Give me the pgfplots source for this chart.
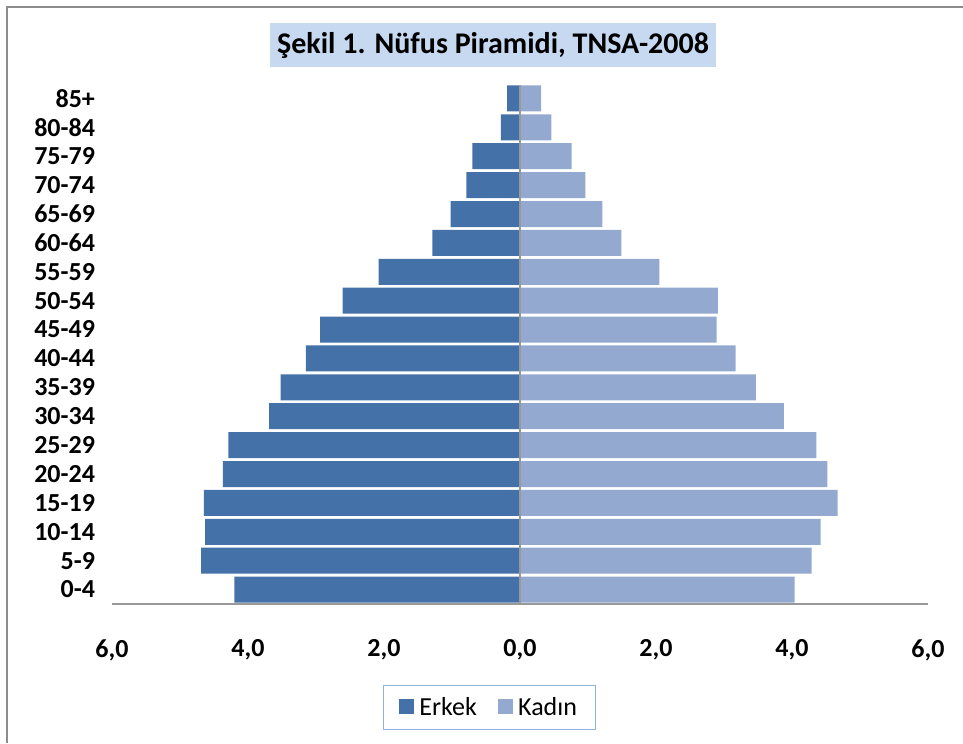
\documentclass[border=0pt]{standalone}
\usepackage{pgfplots}
\pgfplotsset{compat=1.18}
\usepackage{fontspec}
\setmainfont{Carlito}
\definecolor{erkek}{HTML}{4571A9}
\definecolor{kadin}{HTML}{93A9D0}
\definecolor{titlebg}{HTML}{C6D9F1}
\definecolor{legbd}{HTML}{95B0D5}
\begin{document}
\begin{tikzpicture}
\useasboundingbox (-84pt,-104.25pt) rectangle (638.25pt,453pt);
\draw[gray!90, line width=1.5pt] (-78.75pt,-104.25pt) -- (-78.75pt,447.75pt) -- (638.25pt,447.75pt);
\begin{axis}[
  at={(0,0)}, anchor=south west,
  scale only axis,
  width=612pt, height=390pt,
  xbar, bar width=19.5pt, bar shift=0pt,
  xmin=-6, xmax=6,
  ymin=-0.5, ymax=17.5,
  xtick={-6,-4,-2,0,2,4,6},
  xticklabels={{6,0},{4,0},{2,0},{0,0},{2,0},{4,0},{6,0}},
  ytick={0,...,17},
  yticklabels={0-4,5-9,10-14,15-19,20-24,25-29,30-34,35-39,40-44,45-49,50-54,55-59,60-64,65-69,70-74,75-79,80-84,85+},
  tick style={draw=none},
  axis lines*=left,
  x axis line style={draw=gray!80, line width=1pt, -},
  y axis line style={draw=none},
  ticklabel style={font=\fontsize{19.5}{23}\selectfont\bfseries},
  xticklabel style={yshift=-23pt},
  yticklabel style={xshift=-5pt},
  legend style={at={(0.4626,-0.199)}, anchor=center, legend columns=2,
    draw=legbd, line width=0.8pt, font=\fontsize{19.5}{23}\selectfont,
    inner xsep=12pt, inner ysep=7pt,
    /tikz/every even column/.append style={column sep=14pt}},
  legend image code/.code={\fill[#1] (0pt,-5pt) rectangle (11pt,6pt); \path (13pt,0pt);},
]
\addplot[fill=erkek, draw=none] coordinates {
(-4.20,0) (-4.69,1) (-4.63,2) (-4.65,3) (-4.37,4) (-4.29,5) (-3.69,6) (-3.52,7) (-3.15,8)
(-2.94,9) (-2.61,10) (-2.08,11) (-1.29,12) (-1.02,13) (-0.79,14) (-0.70,15) (-0.28,16) (-0.19,17)};
\addlegendentry{Erkek}
\addplot[fill=kadin, draw=none] coordinates {
(4.04,0) (4.29,1) (4.42,2) (4.67,3) (4.52,4) (4.36,5) (3.88,6) (3.47,7) (3.17,8)
(2.89,9) (2.91,10) (2.05,11) (1.49,12) (1.21,13) (0.96,14) (0.76,15) (0.46,16) (0.31,17)};
\addlegendentry{Kadın}
\draw[gray!80, line width=1pt] (axis cs:0,-0.5) -- (axis cs:0,17.45);
\end{axis}
\node[fill=titlebg, minimum width=334.5pt, minimum height=33pt, inner sep=0pt,
  font=\fontsize{22.5}{26}\selectfont\bfseries] at (285.75pt,419.25pt) {Şekil 1. Nüfus Piramidi, TNSA-2008};
\end{tikzpicture}
\end{document}
